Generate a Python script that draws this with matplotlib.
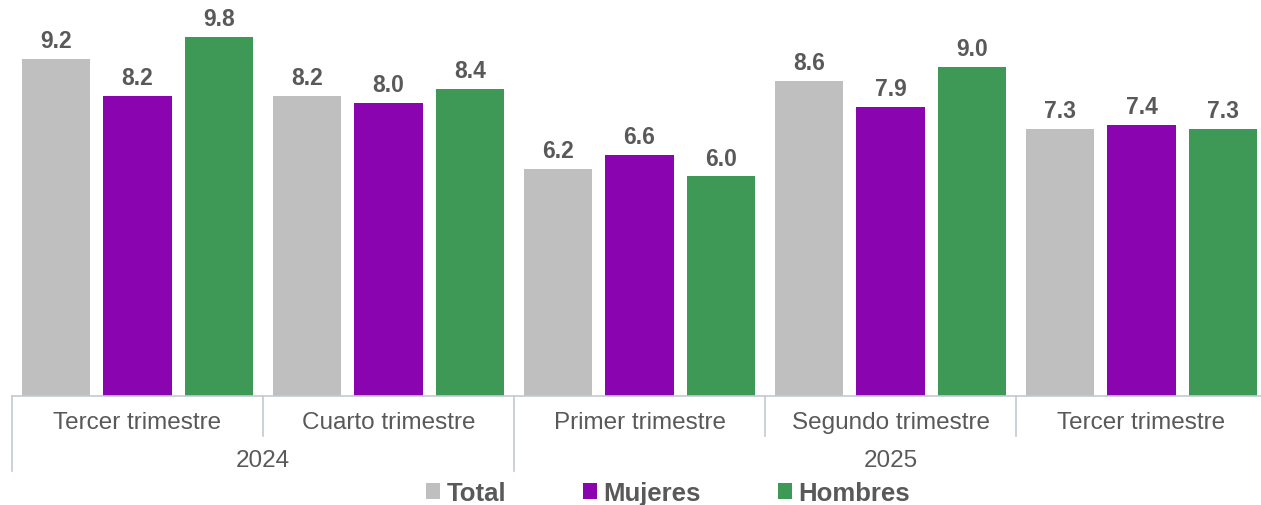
import matplotlib
matplotlib.use("Agg")
import matplotlib.pyplot as plt
from matplotlib.patches import Patch
import numpy as np

plt.rcParams['font.family'] = ['Liberation Sans', 'DejaVu Sans']

categories = ["Tercer trimestre", "Cuarto trimestre", "Primer trimestre", "Segundo trimestre", "Tercer trimestre"]
years = ["2024", "2025"]
year_spans = [(0, 1), (2, 4)]
series_names = ["Total", "Mujeres", "Hombres"]
total = [9.2, 8.2, 6.2, 8.6, 7.3]
mujeres = [8.2, 8.0, 6.6, 7.9, 7.4]
hombres = [9.8, 8.4, 6.0, 9.0, 7.3]
colors = ["#bfbfbf", "#8a04b0", "#3d9955"]
text_color = "#595959"
axis_color = "#c3cad3"

W, H = 1261, 506
fig = plt.figure(figsize=(W / 100, H / 100), dpi=100)
base_px = 397
ax = fig.add_axes([12 / W, (H - base_px) / H, 1255 / W, base_px / H])
ax.set_xlim(-0.5, 4.5)
ax.set_ylim(0, 10.85)
ax.axis("off")

x = np.arange(len(categories))
offsets = [-0.3245, 0.0, 0.3245]
width = 0.271
for vals, off, col in zip([total, mujeres, hombres], offsets, colors):
    bars = ax.bar(x + off, vals, width, color=col)
    for b, v in zip(bars, vals):
        ax.annotate(f"{v:.1f}", (b.get_x() + b.get_width() / 2, v), xytext=(0, 5),
                    textcoords="offset points", ha="center", va="bottom",
                    fontsize=16.5, fontweight="bold", color=text_color)

tr = ax.get_xaxis_transform()
def ay(px):
    return (base_px - px) / base_px

ax.plot([-0.5, 4.5], [0, 0], transform=tr, color=axis_color, lw=1.2, clip_on=False)
long_edges = set()
for s, e in year_spans:
    long_edges.add(s - 0.5)
    long_edges.add(e + 0.5)
for i in range(len(categories) + 1):
    xe = i - 0.5
    y2 = ay(472) if xe in long_edges else ay(437)
    ax.plot([xe, xe], [0, y2], transform=tr, color=axis_color, lw=1.2, clip_on=False)

for i, c in enumerate(categories):
    ax.text(i, ay(423), c, transform=tr, ha="center", va="center", fontsize=17.5, color=text_color)
for (s, e), yname in zip(year_spans, years):
    ax.text((s + e) / 2, ay(461), yname, transform=tr, ha="center", va="center", fontsize=17.5, color=text_color)

handles = [Patch(facecolor=c, label=n) for c, n in zip(colors, series_names)]
fig.legend(handles=handles, loc="center", bbox_to_anchor=(668 / W, 1 - 494 / H), ncol=3,
           frameon=False, handlelength=0.55, handleheight=0.55, handletextpad=0.25,
           columnspacing=3.0, prop={"size": 18.5, "weight": "bold"}, labelcolor=text_color)

fig.savefig("out.png", dpi=100)
